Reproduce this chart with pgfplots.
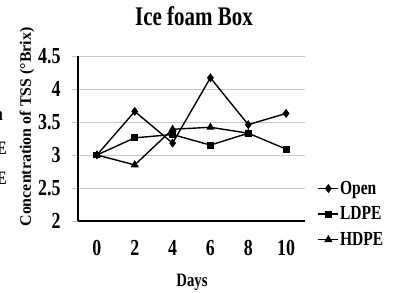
\documentclass[border=0pt]{standalone}
\usepackage{pgfplots}
\pgfplotsset{compat=1.18}
\usepackage{fontspec}
\setmainfont{Liberation Serif}[FakeStretch=0.78]
\newfontfamily\plainserif{Liberation Serif}
\begin{document}
\begin{tikzpicture}[x=1bp,y=1bp]
\clip (0,0) rectangle (398,293);
\path[use as bounding box] (0,0) rectangle (398,293);
\begin{axis}[
  at={(78bp,72bp)}, anchor=south west,
  scale only axis, width=227bp, height=165bp,
  xmin=-1, xmax=11, ymin=2, ymax=4.5,
  xtick={0,2,4,6,8,10},
  ytick={2,2.5,3,3.5,4,4.5},
  axis x line=bottom, axis y line=left,
  axis line style={line width=1.6pt, -},
  x axis line style={-}, y axis line style={-},
  ymajorgrids, grid style={gray!45, line width=0.7pt},
  xtick style={draw=none},
  ytick style={gray!45, line width=0.7pt},
  ytick align=outside, major tick length=6bp,
  /pgf/number format/assume math mode=true,
  ticklabel style={font=\bfseries\fontsize{23}{25}\selectfont},
  yticklabel style={xshift=-8bp},
  xticklabel style={yshift=-13bp},
  clip=false,
  legend style={at={(1.055,0.042)}, anchor=west, draw=none, fill=none,
    font=\bfseries\fontsize{20}{22}\selectfont, row sep=9bp,
    inner sep=0pt, nodes={inner sep=1bp}},
  legend cell align=left,
  legend image code/.code={
    \draw[black, line width=1.4pt] (0bp,0bp) -- (20bp,0bp);
    \draw[black, mark options={solid}, #1] plot coordinates {(10bp,0bp)};
  },
]
\addplot[black, line width=1.4pt, mark=diamond*, mark size=3.4pt, mark options={fill=black}]
  coordinates {(0,3.00) (2,3.66) (4,3.18) (6,4.17) (8,3.46) (10,3.63)};
\addlegendentry{Open}
\addplot[black, line width=1.4pt, mark=square*, mark size=2.8pt, mark options={fill=black}]
  coordinates {(0,3.00) (2,3.26) (4,3.31) (6,3.15) (8,3.33) (10,3.09)};
\addlegendentry{LDPE}
\addplot[black, line width=1.4pt, mark=triangle*, mark size=3.4pt, mark options={fill=black}]
  coordinates {(0,3.00) (2,2.85) (4,3.39) (6,3.42) (8,3.33)};
\addlegendentry{HDPE}
\end{axis}
\node[font=\bfseries\fontsize{27}{29}\selectfont] at (194,277) {Ice foam Box};
\node[font=\bfseries\fontsize{19}{21}\selectfont] at (192,11) {Days};
\node[rotate=90, font=\plainserif\bfseries\fontsize{16}{18}\selectfont] at (27,166) {Concentration of TSS (°Brix)};
\node[anchor=east, inner sep=0pt, font=\bfseries\fontsize{19}{21}\selectfont] at (3,176.5) {Open};
\node[anchor=east, inner sep=0pt, font=\bfseries\fontsize{19}{21}\selectfont] at (7,145) {LDPE};
\node[anchor=east, inner sep=0pt, font=\bfseries\fontsize{19}{21}\selectfont] at (7,115) {HDPE};
\end{tikzpicture}
\end{document}
